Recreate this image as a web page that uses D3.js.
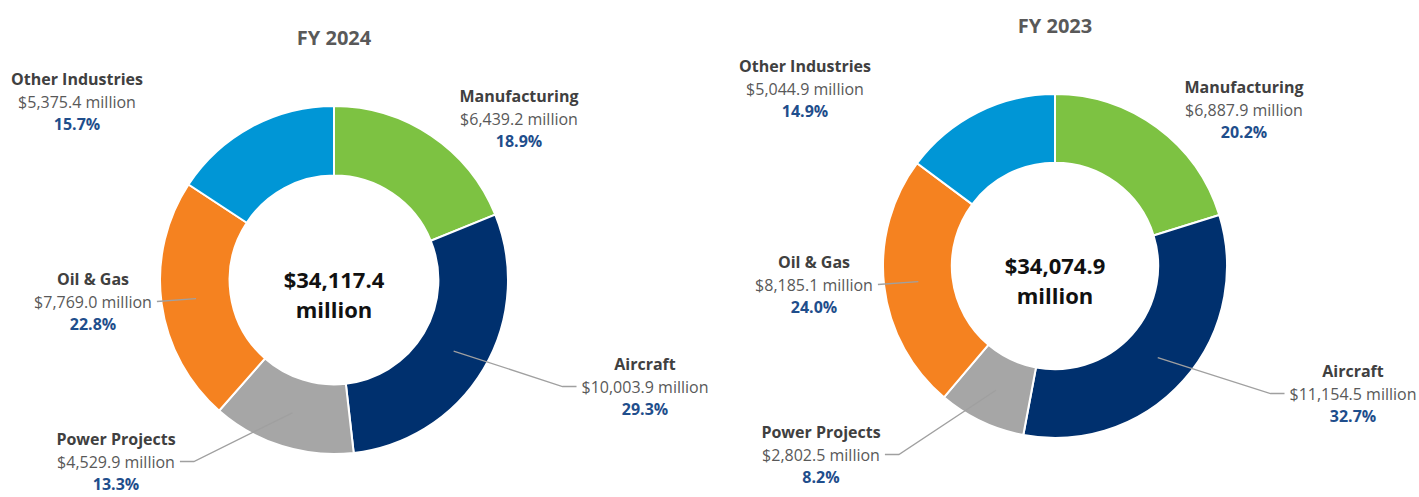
<!DOCTYPE html>
<html>
<head>
<meta charset="utf-8">
<script src="https://cdn.jsdelivr.net/npm/d3@7"></script>
<style>
  body { margin: 0; background: #fff; }
  text { font-family: "Open Sans", sans-serif; }
</style>
</head>
<body>
<div id="chart"></div>
<script>
// data
const categories = ["Manufacturing", "Aircraft", "Power Projects", "Oil & Gas", "Other Industries"];
const sliceColors = ["#7dc242", "#00306e", "#a6a6a6", "#f58220", "#0096d6"];
const titles = ["FY 2024", "FY 2023"];
const values2024 = [6439.2, 10003.9, 4529.9, 7769.0, 5375.4];
const values2023 = [6887.9, 11154.5, 2802.5, 8185.1, 5044.9];
const pct2024 = [18.9, 29.3, 13.3, 22.8, 15.7];
const pct2023 = [20.2, 32.7, 8.2, 24.0, 14.9];
const totals = [34117.4, 34074.9];

const W = 1419, H = 497;

// layout: one entry per chart (label offsets are relative to the donut center)
const layouts = [
    { cx: 334, cy: 280, r: 174, titleY: 45,
      labels: [[185, -178], [311, 90], [-218, 165], [-241, 5], [-257, -195]] },
    { cx: 1055, cy: 266, r: 172, titleY: 33,
      labels: [[189, -173], [298, 111], [-234, 172], [-241, 2], [-250, -194]] }
];
// which slices get a leader line, and the length of its flat part
const leaders = { "Aircraft": 14, "Power Projects": 14, "Oil & Gas": 0 };

const fmt = d3.format(",.1f");
const lineGap = 22.5;

const svg = d3.select("#chart").append("svg")
    .attr("width", W)
    .attr("height", H);

const drawDonut = (values, pcts, total, title, lay) => {
    const g = svg.append("g").attr("transform", `translate(${lay.cx},${lay.cy})`);

    const pie = d3.pie().sort(null).value(d => d.value);
    const arcs = pie(categories.map((c, i) => ({ name: c, value: values[i], pct: pcts[i], color: sliceColors[i] })));

    const arc = d3.arc().innerRadius(lay.r * 0.6).outerRadius(lay.r);

    g.selectAll("path.slice")
        .data(arcs)
        .join("path")
        .attr("class", "slice")
        .attr("d", arc)
        .attr("fill", d => d.data.color)
        .attr("stroke", "#fff")
        .attr("stroke-width", 2);

    // title
    svg.append("text")
        .attr("x", lay.cx).attr("y", lay.titleY)
        .attr("text-anchor", "middle")
        .attr("font-size", 20).attr("font-weight", 700)
        .attr("fill", "#595959")
        .text(title);

    // total in the hole
    g.append("text").attr("y", 8).attr("text-anchor", "middle")
        .attr("font-size", 22).attr("font-weight", 700).attr("fill", "#111")
        .text("$" + fmt(total));
    g.append("text").attr("y", 38).attr("text-anchor", "middle")
        .attr("font-size", 22).attr("font-weight", 700).attr("fill", "#111")
        .text("million");

    arcs.forEach((d, i) => {
        const [lx, ly] = lay.labels[i];
        const lab = g.append("g").attr("transform", `translate(${lx},${ly})`);
        lab.append("text").attr("text-anchor", "middle")
            .attr("font-size", 16).attr("font-weight", 700).attr("fill", "#404040")
            .text(d.data.name);
        const val = lab.append("text").attr("y", lineGap).attr("text-anchor", "middle")
            .attr("font-size", 16).attr("fill", "#595959")
            .text("$" + fmt(d.data.value) + " million");
        lab.append("text").attr("y", lineGap * 2).attr("text-anchor", "middle")
            .attr("font-size", 16).attr("font-weight", 700).attr("fill", "#1f4e8c")
            .text(d.data.pct.toFixed(1) + "%");

        if (d.data.name in leaders) {
            const w = val.node().getComputedTextLength();
            const c = arc.centroid(d);
            const side = lx < 0 ? 1 : -1;
            const x0 = lx + side * (w / 2 + 5);
            const y0 = ly + lineGap - 6;
            const x1 = x0 + side * leaders[d.data.name];
            g.append("path")
                .attr("d", d3.line()([[x0, y0], [x1, y0], c]))
                .attr("fill", "none")
                .attr("stroke", "#a0a0a0")
                .attr("stroke-width", 1.3);
        }
    });
};

drawDonut(values2024, pct2024, totals[0], titles[0], layouts[0]);
drawDonut(values2023, pct2023, totals[1], titles[1], layouts[1]);
</script>
</body>
</html>
